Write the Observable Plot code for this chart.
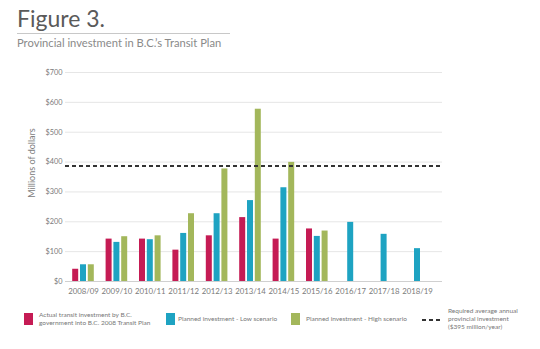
<!DOCTYPE html>
<html>
<head>
<meta charset="utf-8">
<script src="https://cdn.jsdelivr.net/npm/d3@7"></script>
<script src="https://cdn.jsdelivr.net/npm/@observablehq/plot@0.6"></script>
<style>
  html, body { margin: 0; padding: 0; background: #fff; }
  #wrap { position: relative; width: 540px; height: 349px; overflow: hidden; font-family: Lato, "Open Sans", sans-serif; }
  #title { position: absolute; left: 17px; top: 7px; font-size: 23px; line-height: 23px; color: #5a5a5a; }
  #rule { position: absolute; left: 17px; top: 33px; width: 213px; height: 1px; background: #c8c8c8; }
  #subtitle { position: absolute; left: 17px; top: 37px; font-size: 11.2px; line-height: 12px; color: #8a8a8a; }
  #chart { position: absolute; left: 0; top: 60px; }
  #ylabel { position: absolute; left: 31px; top: 163px; transform: translate(-50%, -50%) rotate(-90deg); font-size: 9px; color: #808080; white-space: nowrap; }
  .leg { position: absolute; font-size: 6.5px; line-height: 8px; color: #777; white-space: nowrap; }
  .sw { position: absolute; width: 9px; height: 12px; }
  #chart svg g[aria-label="x-axis"] text, #chart svg g[aria-label="x-axis tick label"] text { font-size: 7.8px; }
</style>
</head>
<body>
<div id="wrap">
  <div id="title">Figure 3.</div>
  <div id="rule"></div>
  <div id="subtitle">Provincial investment in B.C.’s Transit Plan</div>
  <div id="chart"></div>
  <div id="ylabel">Millions of dollars</div>
  <div class="sw" id="sw0" style="left:24px; top:313px;"></div>
  <div class="leg" style="left:39px; top:311px;">Actual transit investment by B.C.<br>government into B.C. 2008 Transit Plan</div>
  <div class="sw" id="sw1" style="left:166px; top:313px;"></div>
  <div class="leg" style="left:178px; top:315px;">Planned investment - Low scenario</div>
  <div class="sw" id="sw2" style="left:291px; top:313px;"></div>
  <div class="leg" style="left:306px; top:315px;">Planned investment - High scenario</div>
  <svg style="position:absolute; left:421px; top:316px;" width="22" height="8"><line x1="1" y1="4" x2="21" y2="4" stroke="#333" stroke-width="2" stroke-dasharray="4,3"/></svg>
  <div class="leg" style="left:448px; top:307px;">Required average annual<br>provincial investment<br>($395 million/year)</div>
</div>
<script>
const years = ["2008/09","2009/10","2010/11","2011/12","2012/13","2013/14","2014/15","2015/16","2016/17","2017/18","2018/19"];
const actual = [41, 142, 142, 105, 153, 214, 142, 176, null, null, null];
const lowScenario = [56, 131, 140, 161, 227, 271, 314, 151, 198, 158, 110];
const highScenario = [56, 150, 153, 227, 377, 577, 399, 169, null, null, null];
const requiredLine = 387;
const yTicks = [0, 100, 200, 300, 400, 500, 600, 700];
const colors = { actual: "#c51b54", low: "#1ea3c2", high: "#a3b75b" };

document.getElementById("sw0").style.background = colors.actual;
document.getElementById("sw1").style.background = colors.low;
document.getElementById("sw2").style.background = colors.high;

const rows = (vals) => years.map((y, i) => ({ year: y, value: vals[i] })).filter(d => d.value != null);

const barOpts = { x: "year", y: "value", insetLeft: 13.7, insetRight: 13.7 };

const chart = Plot.plot({
  width: 540,
  height: 245,
  marginLeft: 65,
  marginRight: 98,
  marginTop: 12,
  marginBottom: 24,
  style: { fontFamily: "Lato, 'Open Sans', sans-serif", fontSize: "7.3px", color: "#7a7a7a", background: "transparent" },
  x: { domain: years, range: [66.3, 433.7], padding: 0, round: false, label: null, tickSize: 0, tickPadding: 7 },
  y: { domain: [0, 700], ticks: yTicks, tickFormat: d => "$" + d, label: null, tickSize: 0, tickPadding: 3, grid: false },
  marks: [
    Plot.ruleY(yTicks.filter(t => t > 0), { stroke: "#e6e6e6", strokeWidth: 1 }),
    Plot.barY(rows(actual), { ...barOpts, fill: colors.actual, dx: -7.8 }),
    Plot.barY(rows(lowScenario), { ...barOpts, fill: colors.low, dx: 0 }),
    Plot.barY(rows(highScenario), { ...barOpts, fill: colors.high, dx: 7.8 }),
    Plot.ruleY([0], { stroke: "#d0d0d0", strokeWidth: 1 }),
    Plot.ruleY([requiredLine], { stroke: "#333", strokeWidth: 2, strokeDasharray: "4,3" })
  ]
});
document.getElementById("chart").appendChild(chart);
</script>
</body>
</html>
